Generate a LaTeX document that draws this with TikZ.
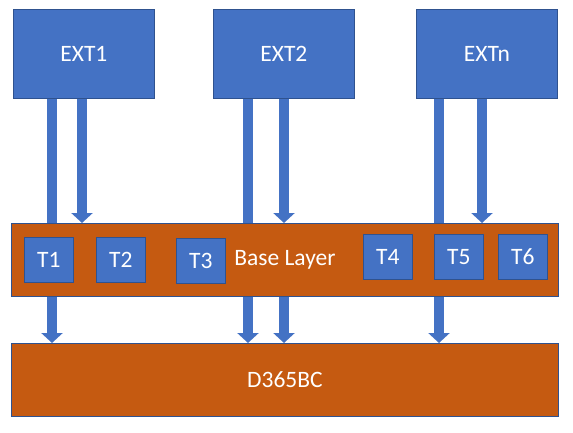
\documentclass[tikz,border=0pt]{standalone}
\usepackage{fontspec}
\setmainfont{Carlito}
\usetikzlibrary{arrows.meta}
\definecolor{boxblue}{HTML}{4472C4}
\definecolor{edgeblue}{HTML}{2F528F}
\definecolor{layerorange}{HTML}{C55A11}
\begin{document}
\begin{tikzpicture}[x=1pt,y=-1pt,
  blk/.style={draw=edgeblue,line width=0.8pt,anchor=north west,inner sep=0pt,
    text=white,font=\fontsize{23.5}{28}\selectfont},
  extbox/.style={blk,fill=boxblue,minimum width=141pt,minimum height=89pt},
  layer/.style={blk,fill=layerorange,minimum width=547pt,minimum height=73pt},
  tbox/.style={blk,fill=boxblue,minimum width=49pt,minimum height=45pt},
  bar/.style={draw=boxblue,line width=10pt},
  arr/.style={bar,-{Triangle[width=21pt,length=10pt]}}]
\useasboundingbox (0,0) rectangle (573,433);
% external boxes
\node[extbox] (ext1) at (13,9) {EXT1};
\node[extbox] (ext2) at (213,9) {EXT2};
\node[extbox] (extn) at (416,9) {EXTn};
% arrow columns
\coordinate (c1) at (52,0);
\coordinate (c2) at (82,0);
\coordinate (c3) at (248,0);
\coordinate (c4) at (284,0);
\coordinate (c5) at (439,0);
\coordinate (c6) at (482,0);
% bars from EXT to base layer (drawn before layers)
\draw[bar] (ext1.south -| c1) -- (52,224);
\draw[bar] (ext2.south -| c3) -- (248,224);
\draw[bar] (extn.south -| c5) -- (439,224);
% layers
\node[layer] (base) at (11,223) {Base Layer};
\node[layer] (d365) at (11,343) {D365BC};
% arrows into base layer
\draw[arr] (ext1.south -| c2) -- (base.north -| c2);
\draw[arr] (ext2.south -| c4) -- (base.north -| c4);
\draw[arr] (extn.south -| c6) -- (base.north -| c6);
% arrows into D365BC
\draw[arr] (base.south -| c1) -- (d365.north -| c1);
\draw[arr] (base.south -| c3) -- (d365.north -| c3);
\draw[arr] (base.south -| c4) -- (d365.north -| c4);
\draw[arr] (base.south -| c5) -- (d365.north -| c5);
% T boxes
\node[tbox] (t1) at (24,237) {T1};
\node[tbox] (t2) at (96,237) {T2};
\node[tbox] (t3) at (176,238) {T3};
\node[tbox] (t4) at (363,234) {T4};
\node[tbox] (t5) at (434,234) {T5};
\node[tbox] (t6) at (498,234) {T6};
\end{tikzpicture}
\end{document}
